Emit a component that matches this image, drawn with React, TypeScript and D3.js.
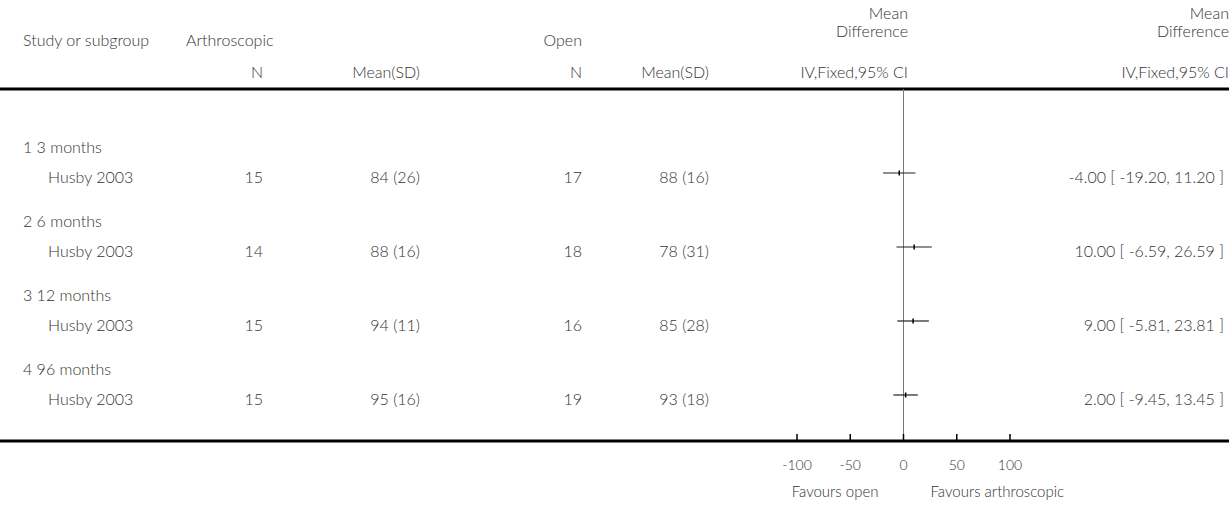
import React from "react";
import * as d3 from "d3";

// Subgroups (follow-up time) and the single study in each
const subgroups = ["1 3 months", "2 6 months", "3 12 months", "4 96 months"];
const studies = ["Husby 2003", "Husby 2003", "Husby 2003", "Husby 2003"];

// Arthroscopic arm
const arthN = [15, 14, 15, 15];
const arthMean = [84, 88, 94, 95];
const arthSD = [26, 16, 11, 16];

// Open arm
const openN = [17, 18, 16, 19];
const openMean = [88, 78, 85, 93];
const openSD = [16, 31, 28, 18];

// Mean difference, IV fixed, 95% CI
const md = [-4.0, 10.0, 9.0, 2.0];
const ciLow = [-19.2, -6.59, -5.81, -9.45];
const ciHigh = [11.2, 26.59, 23.81, 13.45];

const axisTicks = [-100, -50, 0, 50, 100];

const W = 1229;
const H = 508;
const FONT = "Lato, 'Open Sans', sans-serif";
const TXT = "#333";

export default function App() {
  const x = d3.scaleLinear().domain([-100, 100]).range([797, 1010]);

  // vertical layout of the rows
  const groupY = d3.scalePoint<number>().domain([0, 1, 2, 3]).range([148, 370]);
  const rowOffset = 30;
  const ruleY = 89;
  const axisY = 441;

  const fmt = (v: number) => v.toFixed(2);

  return (
    <div style={{ position: "fixed", left: 0, top: 0 }}>
      <svg width={W} height={H} style={{ display: "block", background: "#fff" }} fontFamily={FONT} fontSize={16} fontWeight={300} fill={TXT}>
        {/* header */}
        <text x={23} y={46}>Study or subgroup</text>
        <text x={186} y={46}>Arthroscopic</text>
        <text x={582} y={46} textAnchor="end">Open</text>
        <text x={908} y={19} textAnchor="end">Mean</text>
        <text x={908} y={37} textAnchor="end">Difference</text>
        <text x={1229} y={19} textAnchor="end">Mean</text>
        <text x={1229} y={37} textAnchor="end">Difference</text>

        <text x={263} y={78} textAnchor="end">N</text>
        <text x={420} y={78} textAnchor="end">Mean(SD)</text>
        <text x={582} y={78} textAnchor="end">N</text>
        <text x={709} y={78} textAnchor="end">Mean(SD)</text>
        <text x={908} y={78} textAnchor="end">IV,Fixed,95% CI</text>
        <text x={1229} y={78} textAnchor="end">IV,Fixed,95% CI</text>

        <line x1={0} x2={W} y1={ruleY} y2={ruleY} stroke="#000" strokeWidth={3} />

        {/* line of no effect */}
        <line x1={x(0)} x2={x(0)} y1={ruleY} y2={axisY} stroke="#777" strokeWidth={1} />

        {subgroups.map((g, i) => {
          const gy = groupY(i)!;
          const ry = gy + rowOffset;
          return (
            <g key={g}>
              <text x={23} y={gy + 5}>{g}</text>
              <text x={48} y={ry + 5}>{studies[i]}</text>
              <text x={263} y={ry + 5} textAnchor="end">{arthN[i]}</text>
              <text x={420} y={ry + 5} textAnchor="end">{`${arthMean[i]} (${arthSD[i]})`}</text>
              <text x={582} y={ry + 5} textAnchor="end">{openN[i]}</text>
              <text x={709} y={ry + 5} textAnchor="end">{`${openMean[i]} (${openSD[i]})`}</text>
              <line x1={x(ciLow[i])} x2={x(ciHigh[i])} y1={ry - 5} y2={ry - 5} stroke="#222" strokeWidth={1.2} />
              <rect x={x(md[i]) - 0.75} y={ry - 7.5} width={1.5} height={5} fill="#000" />
              <text x={1224} y={ry + 5} textAnchor="end">{`${fmt(md[i])} [ ${fmt(ciLow[i])}, ${fmt(ciHigh[i])} ]`}</text>
            </g>
          );
        })}

        {/* axis */}
        <line x1={0} x2={W} y1={axisY} y2={axisY} stroke="#000" strokeWidth={3} />
        {axisTicks.map((t) => (
          <g key={t}>
            <line x1={x(t)} x2={x(t)} y1={axisY} y2={axisY - 7} stroke="#000" strokeWidth={1.5} />
            <text x={x(t)} y={axisY + 29} textAnchor="middle" fontSize={14}>{t}</text>
          </g>
        ))}
        <text x={x(0) - 25} y={axisY + 56} textAnchor="end" fontSize={15}>Favours open</text>
        <text x={x(0) + 27} y={axisY + 56} textAnchor="start" fontSize={15}>Favours arthroscopic</text>
      </svg>
    </div>
  );
}
